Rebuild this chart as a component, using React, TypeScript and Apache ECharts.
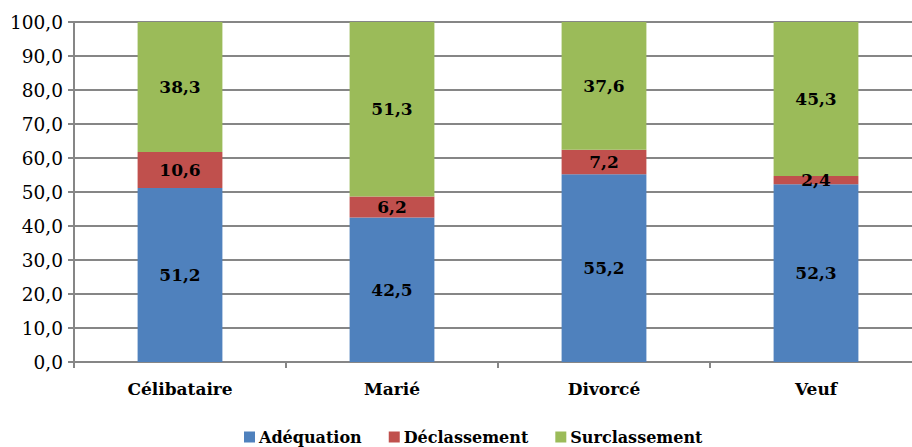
import React, { useEffect, useRef } from "react";
import * as echarts from "echarts";

const categories = ["Célibataire", "Marié", "Divorcé", "Veuf"];
const adequation = [51.2, 42.5, 55.2, 52.3];
const declassement = [10.6, 6.2, 7.2, 2.4];
const surclassement = [38.3, 51.3, 37.6, 45.3];
const yTicks = { min: 0, max: 100, interval: 10 };

const fr = (v: number) => v.toFixed(1).replace(".", ",");
const FONT = "DejaVu Serif";
const AXIS_GREY = "#868686";

export default function App() {
  const ref = useRef<HTMLDivElement>(null);

  useEffect(() => {
    if (!ref.current) return;
    const chart = echarts.init(ref.current, undefined, { renderer: "svg" });
    const label = {
      show: true,
      position: "inside" as const,
      color: "#000",
      fontFamily: FONT,
      fontWeight: "bold" as const,
      fontSize: 17,
      formatter: (p: any) => fr(p.value),
    };
    const mk = (name: string, data: number[], color: string) => ({
      name,
      type: "bar" as const,
      stack: "total",
      data,
      barWidth: "40%",
      itemStyle: { color },
      label,
    });
    chart.setOption({
      animation: false,
      textStyle: { fontFamily: FONT },
      grid: { left: 74, right: 0, top: 22, bottom: 85 },
      legend: {
        bottom: 1,
        left: 244,
        itemWidth: 11,
        itemHeight: 11,
        itemGap: 27,
        icon: "rect",
        padding: 0,
        textStyle: {
          fontFamily: FONT,
          fontWeight: "bold",
          fontSize: 16,
          lineHeight: 18,
          color: "#000",
          padding: [0, 0, 0, -1],
        },
      },
      xAxis: {
        type: "category",
        data: categories,
        axisLine: { lineStyle: { color: AXIS_GREY, width: 2 } },
        axisTick: { show: true, length: 6, lineStyle: { color: AXIS_GREY, width: 2 } },
        axisLabel: {
          margin: 18,
          fontFamily: FONT,
          fontWeight: "bold",
          fontSize: 17,
          color: "#000",
        },
      },
      yAxis: {
        type: "value",
        min: yTicks.min,
        max: yTicks.max,
        interval: yTicks.interval,
        axisLine: { show: true, lineStyle: { color: AXIS_GREY, width: 2 } },
        axisTick: { show: true, length: 6, lineStyle: { color: AXIS_GREY, width: 2 } },
        splitLine: { lineStyle: { color: AXIS_GREY, width: 2 } },
        axisLabel: {
          margin: 11,
          fontFamily: FONT,
          fontSize: 18.5,
          color: "#000",
          formatter: (v: number) => fr(v),
        },
      },
      series: [
        mk("Adéquation", adequation, "#4F81BD"),
        mk("Déclassement", declassement, "#C0504D"),
        mk("Surclassement", surclassement, "#9BBB59"),
      ],
    });
    return () => chart.dispose();
  }, []);

  return (
    <div
      style={{
        position: "fixed",
        left: 0,
        top: 0,
        width: 912,
        height: 447,
        overflow: "hidden",
        background: "#fff",
      }}
    >
      <div ref={ref} style={{ width: 922, height: 447 }} />
    </div>
  );
}
